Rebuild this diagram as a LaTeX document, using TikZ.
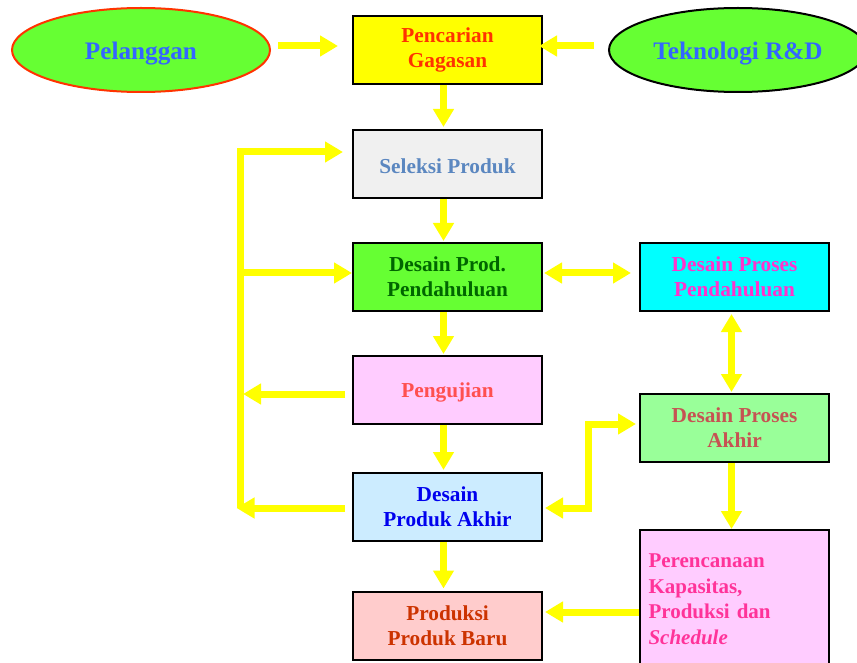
\documentclass[tikz,border=0pt]{standalone}
\usepackage{fontspec}
\setmainfont{Liberation Serif}
\usetikzlibrary{arrows.meta,shapes.geometric}
\definecolor{yl}{HTML}{FFFF00}
\definecolor{elgreen}{HTML}{66FF33}
\definecolor{eltext}{HTML}{3366FF}
\definecolor{pentext}{HTML}{FF3300}
\definecolor{selfill}{HTML}{F0F0F0}
\definecolor{seltext}{HTML}{5B87C0}
\definecolor{dpptext}{HTML}{006600}
\definecolor{ujifill}{HTML}{FFCCFF}
\definecolor{ujitext}{HTML}{FF5050}
\definecolor{dpafill}{HTML}{CCECFF}
\definecolor{dpatext}{HTML}{0000EE}
\definecolor{prdfill}{HTML}{FFCCCC}
\definecolor{prdtext}{HTML}{CC3300}
\definecolor{dspfill}{HTML}{00FFFF}
\definecolor{dsptext}{HTML}{FF33CC}
\definecolor{dsafill}{HTML}{99FF99}
\definecolor{dsatext}{HTML}{C65353}
\definecolor{pertext}{HTML}{FF3399}
\begin{document}
\begin{tikzpicture}[x=1pt,y=-1pt,
  boxn/.style={draw=black,line width=2pt,minimum width=189pt,minimum height=68pt,inner sep=0pt,align=center,
    font=\fontsize{21.3}{25}\selectfont\bfseries,execute at begin node={\rule{0pt}{20pt}}},
  perbox/.style={draw=black,line width=2pt,minimum width=189pt,minimum height=138pt,inner sep=0pt,
    align=left,text width=172pt,font=\fontsize{21}{25.5}\selectfont\bfseries},
  elln/.style={ellipse,fill=elgreen,line width=2pt,minimum width=258pt,minimum height=84pt,inner sep=0pt,
    font=\fontsize{25.2}{29}\selectfont\bfseries,text=eltext,execute at begin node={\rule{0pt}{24pt}}},
  yline/.style={draw=yl,line width=7pt},
  yarr/.style={yline,-{Triangle[width=20pt,length=18pt]}},
  ydbl/.style={yline,{Triangle[width=20pt,length=18pt]}-{Triangle[width=20pt,length=18pt]}}]
\useasboundingbox (0,0) rectangle (857,663);
\clip (0,0) rectangle (857,663);
% ellipses
\node[elln,draw=pentext] (pel) at (141,50) {Pelanggan};
\node[elln,draw=black] (tek) at (738,50) {Teknologi R\&D};
% main column
\node[boxn,fill=yl,text=pentext] (pen) at (447.5,50) {Pencarian\\Gagasan};
\node[boxn,fill=selfill,text=seltext] (sel) at (447.5,164) {Seleksi Produk};
\node[boxn,fill=elgreen,text=dpptext] (dpp) at (447.5,277) {Desain Prod.\\Pendahuluan};
\node[boxn,fill=ujifill,text=ujitext] (uji) at (447.5,390) {Pengujian};
\node[boxn,fill=dpafill,text=dpatext] (dpa) at (447.5,507) {Desain\\Produk Akhir};
\node[boxn,fill=prdfill,text=prdtext] (prd) at (447.5,625.5) {Produksi\\Produk Baru};
% right column
\node[boxn,fill=dspfill,text=dsptext] (dsp) at (734.5,277) {Desain Proses\\Pendahuluan};
\node[boxn,fill=dsafill,text=dsatext] (dsa) at (734.5,428) {Desain Proses\\Akhir};
\node[perbox,fill=ujifill,text=pertext] (per) at (734.5,599)
  {Perencanaan\\Kapasitas,\\Produksi dan\\\textit{Schedule}};
% helper coordinates
\coordinate (Ltop) at (240,152);
\coordinate (Lmid) at (240,273);
\coordinate (Luji) at (240,394);
\coordinate (Lbot) at (240,508);
\coordinate (R1) at (588,508);
\coordinate (R2) at (588,424);
\coordinate (P) at (600,612);
% top arrows
\draw[yarr] ([xshift=7pt,yshift=4pt]pel.east) -- ([xshift=-14pt,yshift=4pt]pen.west);
\draw[yarr] ([xshift=-14pt,yshift=4pt]tek.west) -- ([xshift=-4pt,yshift=4pt]pen.east);
% vertical chain
\draw[yarr] ([xshift=-4pt]pen.south) -- ([xshift=-4pt,yshift=2pt]sel.north);
\draw[yarr] ([xshift=-4pt]sel.south) -- ([xshift=-4pt,yshift=1pt]dpp.north);
\draw[yarr] ([xshift=-4pt]dpp.south) -- ([xshift=-4pt,yshift=1pt]uji.north);
\draw[yarr] ([xshift=-4pt]uji.south) -- ([xshift=-4pt,yshift=2pt]dpa.north);
\draw[yarr] ([xshift=-4pt]dpa.south) -- ([xshift=-4pt,yshift=2pt]prd.north);
% left feedback loop
\draw[yarr] (Lbot) -- (Ltop) -- ([xshift=-9pt]Ltop -| sel.west);
\draw[yarr] (Lmid) -- (Lmid -| dpp.west);
\draw[yarr] ([xshift=-7pt]Luji -| uji.west) -- ([xshift=3pt]Luji);
\draw[yarr] ([xshift=-7pt]Lbot -| dpa.west) -- ([xshift=-3.5pt]Lbot);
% right side
\draw[ydbl] ([xshift=1pt,yshift=4pt]dpp.east) -- ([xshift=-8pt,yshift=4pt]dsp.west);
\draw[ydbl] ([xshift=-3pt,yshift=-2pt]dsp.south) -- ([xshift=-3pt,yshift=1pt]dsa.north);
\draw[yarr] ([xshift=-3pt]dsa.south) -- ([xshift=-3pt]per.north);
\draw[ydbl] ([xshift=2pt]R1 -| dpa.east) -- (R1) -- (R2) -- ([xshift=-3pt]R2 -| dsa.west);
\draw[yarr] (P -| per.west) -- ([xshift=2pt]P -| prd.east);
\end{tikzpicture}
\end{document}
